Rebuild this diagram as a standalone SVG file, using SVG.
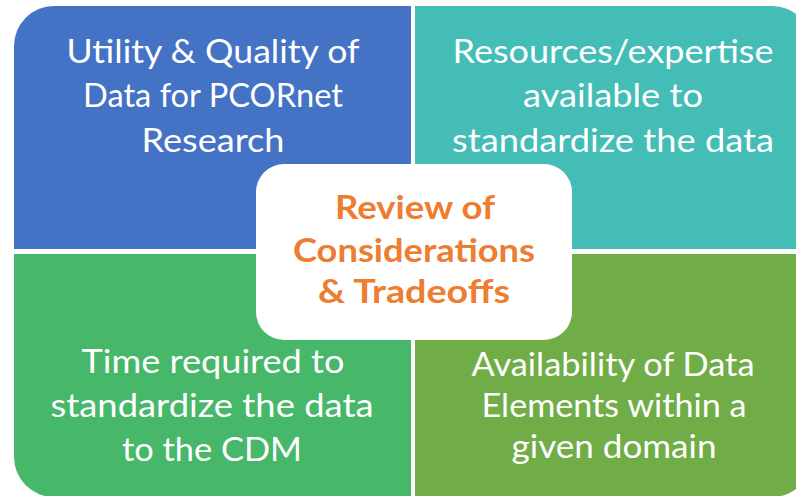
<svg xmlns="http://www.w3.org/2000/svg" width="796" height="496" viewBox="0 0 796 496">
<style>
.q{font-family:Lato,"Open Sans","Liberation Sans",sans-serif;font-size:33px;fill:#ffffff;text-anchor:middle}
.c{font-family:Lato,"Open Sans","Liberation Sans",sans-serif;font-size:32px;font-weight:bold;fill:#ED7D31;text-anchor:middle}
</style>
<rect width="796" height="496" fill="#ffffff"/>
<g id="node-utility">
<path d="M14,249 V46 A40,40 0 0 1 54,6 H411 V249 Z" fill="#4472C4"/>
<text class="q" x="213" y="63" textLength="293" lengthAdjust="spacingAndGlyphs">Utility &amp; Quality of</text>
<text class="q" x="213" y="107" textLength="260" lengthAdjust="spacingAndGlyphs">Data for PCORnet</text>
<text class="q" x="213" y="152" textLength="143" lengthAdjust="spacingAndGlyphs">Research</text>
</g>
<g id="node-resources">
<path d="M415,6 H772 A40,40 0 0 1 812,46 V249 H415 Z" fill="#44BDB7"/>
<text class="q" x="613" y="63" textLength="321" lengthAdjust="spacingAndGlyphs">Resources/expertise</text>
<text class="q" x="613" y="107" textLength="180" lengthAdjust="spacingAndGlyphs">available to</text>
<text class="q" x="613" y="152" textLength="322" lengthAdjust="spacingAndGlyphs">standardize the data</text>
</g>
<g id="node-time">
<path d="M14,254 H411 V497 H54 A40,40 0 0 1 14,457 Z" fill="#47B76A"/>
<text class="q" x="213" y="373" textLength="263" lengthAdjust="spacingAndGlyphs">Time required to</text>
<text class="q" x="212" y="417" textLength="323" lengthAdjust="spacingAndGlyphs">standardize the data</text>
<text class="q" x="212" y="461" textLength="180" lengthAdjust="spacingAndGlyphs">to the CDM</text>
</g>
<g id="node-availability">
<path d="M415,254 H812 V457 A40,40 0 0 1 772,497 H415 Z" fill="#70AD47"/>
<text class="q" x="613" y="376" textLength="283" lengthAdjust="spacingAndGlyphs">Availability of Data</text>
<text class="q" x="614" y="417" textLength="265" lengthAdjust="spacingAndGlyphs">Elements within a</text>
<text class="q" x="614" y="458" textLength="205" lengthAdjust="spacingAndGlyphs">given domain</text>
</g>
<g id="connectors"></g>
<g id="node-review">
<rect x="256" y="164" width="316" height="176" rx="28" ry="28" fill="#ffffff"/>
<text class="c" x="415" y="219" textLength="160" lengthAdjust="spacingAndGlyphs">Review of</text>
<text class="c" x="414" y="262" textLength="242" lengthAdjust="spacingAndGlyphs">Considerations</text>
<text class="c" x="414" y="303" textLength="192" lengthAdjust="spacingAndGlyphs">&amp; Tradeoffs</text>
</g>
</svg>
